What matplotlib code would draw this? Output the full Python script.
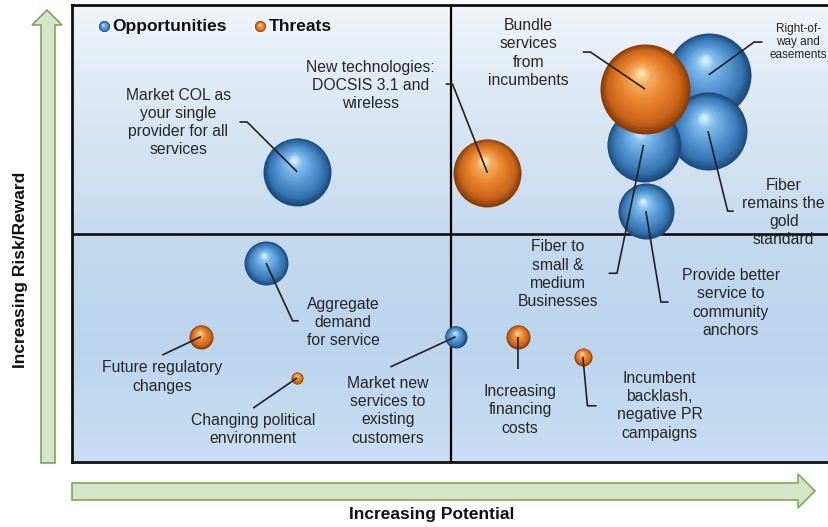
import matplotlib
matplotlib.use("Agg")
import matplotlib.pyplot as plt
from matplotlib.colors import LinearSegmentedColormap
from matplotlib.patches import Polygon
from matplotlib.transforms import offset_copy
import numpy as np

plt.rcParams['font.family'] = ['Liberation Sans', 'DejaVu Sans']

# bubbles: potential (x), risk/reward (y), bubble radius, kind
names = ["Right-of-way and easements", "Fiber remains the gold standard",
         "Fiber to small & medium Businesses", "Bundle services from incumbents",
         "Market COL as your single provider for all services",
         "New technologies: DOCSIS 3.1 and wireless", "Provide better service to community anchors",
         "Aggregate demand for service", "Future regulatory changes",
         "Changing political environment", "Market new services to existing customers",
         "Increasing financing costs", "Incumbent backlash, negative PR campaigns"]
xs = [8.40, 8.39, 7.54, 7.56, 2.97, 5.48, 7.57, 2.56, 1.70, 2.97, 5.06, 5.89, 6.74]
ys = [8.47, 7.24, 6.94, 8.16, 6.35, 6.33, 5.49, 4.35, 2.74, 1.84, 2.74, 2.74, 2.30]
radius = [42, 39, 37, 45, 34, 34, 28, 22, 12, 6, 11, 12, 9]
kind = ["opp", "opp", "opp", "thr", "opp", "thr", "opp", "opp", "thr", "thr", "opp", "thr", "thr"]

# label text, label centre (x, y) and leader elbow points (data units)
labels = ["Right-of-\nway and\neasements", "Fiber\nremains the\ngold\nstandard",
          "Fiber to\nsmall &\nmedium\nBusinesses", "Bundle\nservices\nfrom\nincumbents",
          "Market COL as\nyour single\nprovider for all\nservices",
          "New technologies:\nDOCSIS 3.1 and\nwireless",
          "Provide better\nservice to\ncommunity\nanchors",
          "Aggregate\ndemand\nfor service", "Future regulatory\nchanges",
          "Changing political\nenvironment", "Market new\nservices to\nexisting\ncustomers",
          "Increasing\nfinancing\ncosts", "Incumbent\nbacklash,\nnegative PR\ncampaigns"]
lab_x = [9.58, 9.39, 6.41, 6.02, 1.40, 3.94, 8.69, 3.58, 1.19, 2.39, 4.17, 5.91, 7.75]
lab_y = [9.19, 5.46, 4.11, 8.95, 7.43, 8.24, 3.48, 3.05, 1.86, 0.71, 1.12, 1.14, 1.23]
elbow = [[(9.00, 9.19), (9.11, 9.19)],
         [(8.65, 5.49), (8.73, 5.49)],
         [(7.19, 4.13), (7.08, 4.13)],
         [(6.84, 8.97), (6.74, 8.97)],
         [(2.31, 7.44), (2.21, 7.44)],
         [(5.02, 8.27), (4.93, 8.27)],
         [(7.77, 3.50), (7.87, 3.50)],
         [(2.91, 3.09), (2.99, 3.09)],
         [(1.19, 2.34)],
         [(2.39, 1.18)],
         [(4.20, 2.08)],
         [(5.89, 2.04)],
         [(6.80, 1.23), (6.92, 1.23)]]
lab_size = [8.5, 11.3, 11.3, 11.3, 11.3, 11.3, 11.3, 11.3, 11.3, 11.3, 11.3, 11.3, 11.3]

blue_cmap = LinearSegmentedColormap.from_list(
    "b", [(0, "#1d4a78"), (0.18, "#3473b0"), (0.5, "#5898d4"), (0.82, "#86c0ee"), (1, "#d2f0ff")])
orange_cmap = LinearSegmentedColormap.from_list(
    "o", [(0, "#8a3c06"), (0.18, "#c8641a"), (0.5, "#e8812c"), (0.82, "#f6ab5e"), (1, "#ffe2a8")])

fig = plt.figure(figsize=(8.29, 5.27), dpi=100)
ax = fig.add_axes([72 / 829, 65 / 527, 758 / 829, 457 / 527])
ax.set_xlim(0, 10)
ax.set_ylim(0, 10)


def sphere(x, y, r, cmap, z, base=None):
    base = ax.transData if base is None else base
    n = 28
    for k in range(n):
        t = k / (n - 1)
        rk = r * (1 - 0.94 * t)
        dx = -0.10 * r * t * 0.72
        dy = 0.36 * r * t * 0.72
        tr = offset_copy(base, fig=fig, x=dx, y=dy, units='points')
        ax.scatter([x], [y], s=(1.44 * rk) ** 2, color=cmap(t), linewidths=0,
                   transform=tr, zorder=z + k * 0.001, clip_on=False)


# background gradient
top = LinearSegmentedColormap.from_list("t", ["#c6dbef", "#d9e6f3", "#f1f5fa"])
bot = LinearSegmentedColormap.from_list("bt", ["#cadef2", "#bcd5ed", "#c3d9ee"])
g = np.linspace(0, 1, 200).reshape(-1, 1)
ax.imshow(g, cmap=top, extent=[0, 10, 5, 10], origin='lower', aspect='auto', zorder=0)
ax.imshow(g, cmap=bot, extent=[0, 10, 0, 5], origin='lower', aspect='auto', zorder=0)

ax.axvline(5, color='black', lw=1.6, zorder=1)
ax.axhline(5, color='black', lw=1.8, zorder=1)

for i in range(len(xs)):
    cm = blue_cmap if kind[i] == "opp" else orange_cmap
    sphere(xs[i], ys[i], radius[i], cm, 2 + i * 0.1)

for i in range(len(xs)):
    pts = [(xs[i], ys[i])] + elbow[i]
    px, py = zip(*pts)
    ax.plot(px, py, color='#222222', lw=1.2, zorder=5, solid_capstyle='butt')
    ax.text(lab_x[i], lab_y[i], labels[i], ha='center', va='center', fontsize=lab_size[i],
            color='#262626', linespacing=1.27 if lab_size[i] > 9 else 1.1, zorder=6)

# legend
sphere(0.042, 0.953, 5.5, blue_cmap, 7, base=ax.transAxes)
ax.text(0.053, 0.953, "Opportunities", transform=ax.transAxes, fontsize=12.5,
        fontweight='bold', va='center', ha='left', color='#111111')
sphere(0.248, 0.953, 5.5, orange_cmap, 7, base=ax.transAxes)
ax.text(0.259, 0.953, "Threats", transform=ax.transAxes, fontsize=12.5,
        fontweight='bold', va='center', ha='left', color='#111111')

ax.set_xticks([])
ax.set_yticks([])
for s in ['left', 'top', 'bottom']:
    ax.spines[s].set_linewidth(2)
    ax.spines[s].set_color('#111111')
ax.spines['right'].set_visible(False)


def px2fig(pts):
    return [(x / 829, 1 - y / 527) for x, y in pts]


up = [(41, 463), (41, 25), (32, 25), (47, 10), (62, 25), (55, 25), (55, 463)]
right = [(72, 483), (798, 483), (798, 474), (815, 491), (798, 508), (798, 500), (72, 500)]
for arr in (up, right):
    fig.patches.append(Polygon(px2fig(arr), closed=True, transform=fig.transFigure,
                               facecolor='#d7e4c8', edgecolor='#7aa95e', lw=1.2))

fig.text(21 / 829, 1 - 270 / 527, "Increasing Risk/Reward", rotation=90, ha='center',
         va='center', fontsize=12.5, fontweight='bold', color='#111111')
fig.text(432 / 829, 1 - 515 / 527, "Increasing Potential", ha='center', va='center',
         fontsize=12.5, fontweight='bold', color='#111111')

fig.savefig("out.png", dpi=100)
